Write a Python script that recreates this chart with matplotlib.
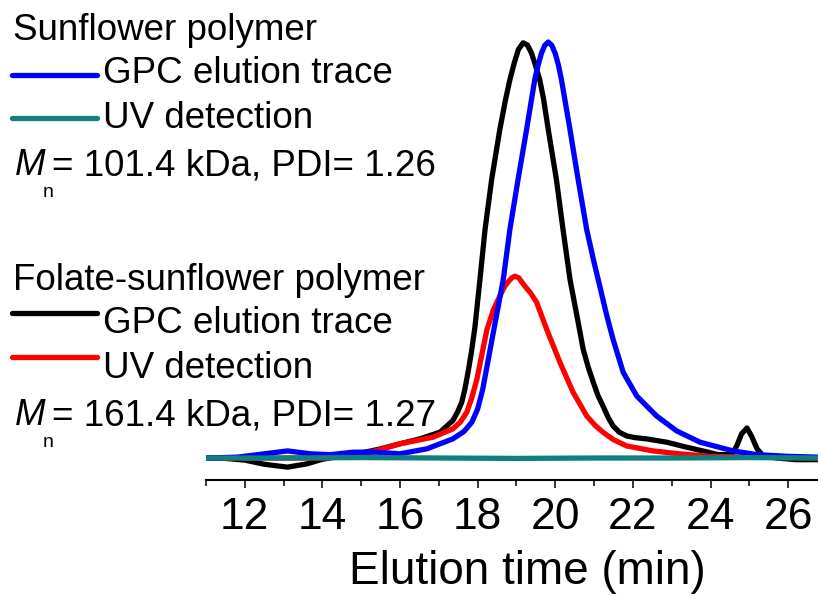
import matplotlib
matplotlib.use("Agg")
import matplotlib.pyplot as plt
from matplotlib.lines import Line2D
from matplotlib.ticker import MultipleLocator

plt.rcParams['font.family'] = ['Liberation Sans', 'DejaVu Sans']

# ---- data ----
black_t = [11.0, 11.5, 12.0, 12.5, 13.1, 13.6, 14.0, 14.5, 15.0, 15.5, 15.99, 16.51,
           17.03, 17.36, 17.48, 17.59, 17.67, 17.75, 17.84, 17.93, 18.06, 18.19, 18.36,
           18.57, 18.72, 18.83, 18.95, 19.05, 19.17, 19.28, 19.38, 19.48, 19.60, 19.70,
           19.82, 20.03, 20.20, 20.38, 20.59, 20.72, 20.85, 20.98, 21.10, 21.23, 21.36,
           21.49, 21.65, 21.84, 22.05, 22.35, 22.87, 23.38, 23.80, 24.2, 24.55, 24.68,
           24.80, 24.94, 25.06, 25.20, 25.35, 25.7, 26.2, 26.8]
black_v = [0.0, -0.001, -0.005, -0.015, -0.022, -0.014, -0.003, 0.005, 0.012, 0.022, 0.034,
           0.046, 0.062, 0.090, 0.110, 0.134, 0.165, 0.205, 0.255, 0.315, 0.43, 0.549, 0.669,
           0.789, 0.862, 0.909, 0.952, 0.982, 0.998, 0.993, 0.975, 0.947, 0.909, 0.862,
           0.789, 0.669, 0.549, 0.429, 0.326, 0.261, 0.218, 0.182, 0.150, 0.125, 0.098,
           0.077, 0.062, 0.053, 0.049, 0.046, 0.038, 0.026, 0.017, 0.008, 0.008, 0.030,
           0.058, 0.072, 0.052, 0.022, 0.006, 0.0, -0.004, -0.004]

blue_t = [11.0, 11.8, 12.5, 13.1, 13.7, 14.2, 14.8, 15.4, 15.99, 16.69, 17.36, 17.65,
          17.85, 18.0, 18.13, 18.28, 18.44, 18.66, 18.83, 19.04, 19.26, 19.47, 19.56, 19.64,
          19.73, 19.82, 19.91, 20.0, 20.08, 20.16, 20.38, 20.59, 20.81, 21.0, 21.15, 21.32,
          21.49, 21.75, 22.10, 22.61, 23.13, 23.73, 24.58, 25.2, 26.0, 26.8]
blue_v = [0.0, 0.002, 0.010, 0.017, 0.010, 0.008, 0.014, 0.014, 0.010, 0.022, 0.046, 0.064,
          0.086, 0.118, 0.165, 0.240, 0.320, 0.429, 0.549, 0.669, 0.789, 0.909, 0.945, 0.972,
          0.992, 1.0, 0.992, 0.972, 0.945, 0.909, 0.789, 0.669, 0.549, 0.470, 0.412, 0.345,
          0.285, 0.206, 0.149, 0.101, 0.065, 0.038, 0.017, 0.008, 0.004, 0.002]

red_t = [11.0, 14.0, 14.7, 15.4, 15.99, 16.85, 17.36, 17.55, 17.72, 17.85, 17.98, 18.10,
         18.24, 18.40, 18.57, 18.70, 18.80, 18.88, 18.96, 19.06, 19.20, 19.36, 19.52, 19.78,
         20.12, 20.46, 20.81, 21.02, 21.23, 21.50, 21.84, 22.52, 23.2, 24.0, 25.0, 26.8]
red_v = [0.0, 0.0, 0.004, 0.018, 0.034, 0.050, 0.070, 0.086, 0.110, 0.145, 0.189, 0.245,
         0.309, 0.355, 0.389, 0.413, 0.425, 0.433, 0.437, 0.433, 0.415, 0.397, 0.374, 0.309,
         0.230, 0.158, 0.101, 0.079, 0.062, 0.044, 0.029, 0.017, 0.010, 0.004, 0.002, 0.0]

teal_t = [11.0, 13.0, 15.0, 17.0, 19.0, 21.0, 23.0, 25.0, 26.8]
teal_v = [0.0, 0.0, 0.001, 0.0, -0.001, 0.0, 0.0, 0.001, 0.0]

xticks = [12, 14, 16, 18, 20, 22, 24, 26]

BLUE = '#0000ff'
BLACK = '#000000'
RED = '#ff0000'
TEAL = '#127f7f'

W, H = 818, 596
fig = plt.figure(figsize=(W / 100, H / 100), dpi=100)

def fx(px):
    return px / W

def fy(py):
    return 1 - py / H

ax = fig.add_axes([fx(206), fy(480), fx(818) - fx(206), fy(30) - fy(480)])
lw = 3.8
kw = dict(lw=lw, solid_capstyle='round', solid_joinstyle='round')
ax.plot(black_t, black_v, color=BLACK, **kw)
ax.plot(red_t, red_v, color=RED, **kw)
ax.plot(blue_t, blue_v, color=BLUE, **kw)
ax.plot(teal_t, teal_v, color=TEAL, **kw)

ax.set_xlim(11.0, 26.77)
ax.set_ylim(-22 / 416, 1 + 12 / 416)
for s in ['left', 'right', 'top']:
    ax.spines[s].set_visible(False)
ax.spines['bottom'].set_linewidth(1.5)
ax.set_yticks([])
ax.set_xticks(xticks)
ax.set_xticklabels([str(v) for v in xticks])
ax.xaxis.set_minor_locator(MultipleLocator(1))
ax.tick_params(axis='x', which='major', direction='out', length=6, width=1.1,
               labelsize=32, pad=6)
ax.tick_params(axis='x', which='minor', direction='out', length=4, width=1.1)
ax.patch.set_alpha(0)

fig.text(fx(527), fy(584), 'Elution time (min)', fontsize=33, ha='center', va='baseline')

# legend-like annotation block
fs = 26.5


def legend_line(py, color):
    fig.add_artist(Line2D([fx(12), fx(97)], [fy(py), fy(py)], color=color, lw=lw,
                          transform=fig.transFigure, solid_capstyle='round'))


def mn_line(base, rest):
    fig.text(fx(15), fy(base), 'M', fontsize=fs, style='italic', va='baseline')
    fig.text(fx(43), fy(base + 22), 'n', fontsize=14, va='baseline')
    fig.text(fx(52), fy(base), rest, fontsize=fs, va='baseline')


fig.text(fx(13), fy(40), 'Sunflower polymer', fontsize=fs, va='baseline')
legend_line(75, BLUE)
fig.text(fx(103), fy(83), 'GPC elution trace', fontsize=fs, va='baseline')
legend_line(118, TEAL)
fig.text(fx(103), fy(128), 'UV detection', fontsize=fs, va='baseline')
mn_line(175, '= 101.4 kDa, PDI= 1.26')

fig.text(fx(13), fy(290), 'Folate-sunflower polymer', fontsize=fs, va='baseline')
legend_line(313, BLACK)
fig.text(fx(103), fy(333), 'GPC elution trace', fontsize=fs, va='baseline')
legend_line(357, RED)
fig.text(fx(103), fy(378), 'UV detection', fontsize=fs, va='baseline')
mn_line(425, '= 161.4 kDa, PDI= 1.27')

fig.savefig('out.png', dpi=100)
